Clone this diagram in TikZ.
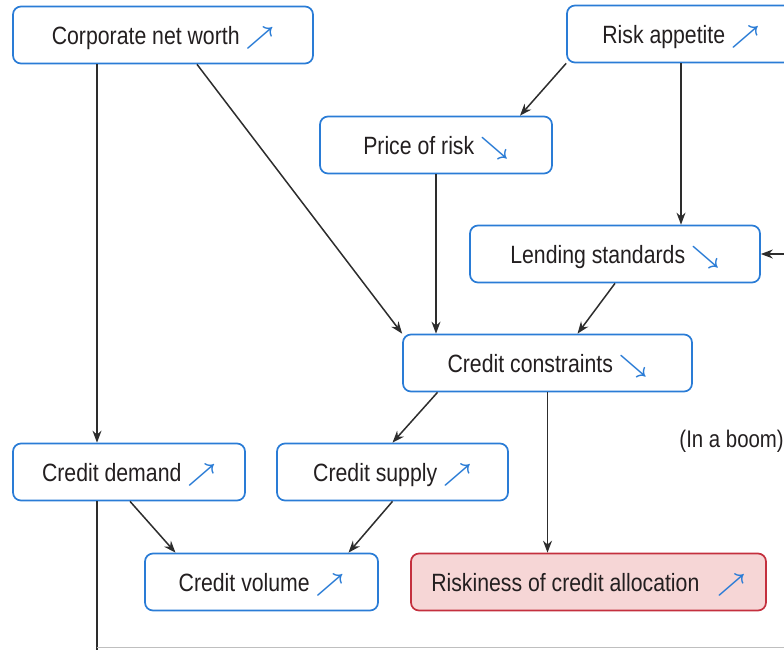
\documentclass[tikz,border=0pt]{standalone}
\usepackage{fontspec}
\setmainfont{Liberation Sans}[FakeStretch=0.85]
\usepackage{bm}
\usepackage{xcolor}
\usepackage{tikz}
\usetikzlibrary{arrows.meta,calc}

\definecolor{boxblue}{RGB}{42,124,214}
\definecolor{riskred}{RGB}{196,48,62}
\definecolor{riskfill}{RGB}{246,214,214}
\definecolor{txt}{RGB}{35,31,32}
\definecolor{edge}{RGB}{45,45,45}

\newcommand{\rising}{\ {\color{boxblue}$\bm{\nearrow}$}}
\newcommand{\falling}{\ {\color{boxblue}$\bm{\searrow}$}}

\tikzset{
  box/.style={draw=boxblue, line width=1.7pt, rounded corners=8pt, fill=white,
    text=txt, minimum height=57pt, inner sep=0pt, text height=18pt, text depth=0pt,
    font=\fontsize{25}{30}\selectfont},
  riskbox/.style={box, draw=riskred, fill=riskfill}
}

\begin{document}
\begin{tikzpicture}[x=1pt,y=-1pt]
        \useasboundingbox (0,0) rectangle (784,649);
        \clip (0,0) rectangle (784,649);
        \node[box, minimum width=300pt] (cnw) at (163,35) {Corporate net worth\rising};
        \node[box, minimum width=228pt] (ra) at (681,34) {Risk appetite\rising};
        \node[box, minimum width=232pt] (pr) at (436,145) {Price of risk\falling};
        \node[box, minimum width=290pt] (ls) at (615,254) {Lending standards\falling};
        \node[box, minimum width=289pt] (cc) at (547.5,363) {Credit constraints\falling};
        \node[box, minimum width=232pt] (cd) at (129,472) {Credit demand\rising};
        \node[box, minimum width=231pt] (cs) at (392.5,472) {Credit supply\rising};
        \node[box, minimum width=233pt] (cv) at (261.5,582) {Credit volume\rising};
        \node[riskbox, minimum width=355pt] (rk) at (588.5,582) {Riskiness of credit allocation\ \ \rising};
        \node[anchor=east, inner sep=0pt, text=txt, font=\fontsize{24}{28}\selectfont] (boom) at (784,441) {(In a boom)};
        \coordinate (feed) at (790,254);
        \coordinate (down) at (97,652);
        \begin{scope}[->,>={Stealth[length=12pt,width=9pt]},draw=edge,line width=1.5pt]
            \draw ([xshift=-66pt]cnw.south) -- ([xshift=-32pt]cd.north);
            \draw ([xshift=34pt]cnw.south) -- (cc.north west);
            \draw (ra.south west) -- ([xshift=84pt]pr.north);
            \draw (ra.south) -- ([xshift=66pt]ls.north);
            \draw (pr.south) -- ([xshift=-111.5pt]cc.north);
            \draw (ls.south) -- ([xshift=30pt]cc.north);
            \draw (feed) -- (ls.east);
            \draw ([xshift=-110pt]cc.south) -- (cs.north);
            \draw (cc.south) -- ([xshift=-41pt]rk.north);
            \draw ([xshift=1pt]cd.south) -- ([xshift=-86pt]cv.north);
            \draw (cs.south) -- ([xshift=87pt]cv.north);
        \end{scope}
        \draw[edge,line width=1.5pt] ([xshift=-32pt]cd.south) -- (down);
        \draw[black!25,line width=1pt] (97,647.5) -- (790,647.5);
    \end{tikzpicture}
\end{document}
